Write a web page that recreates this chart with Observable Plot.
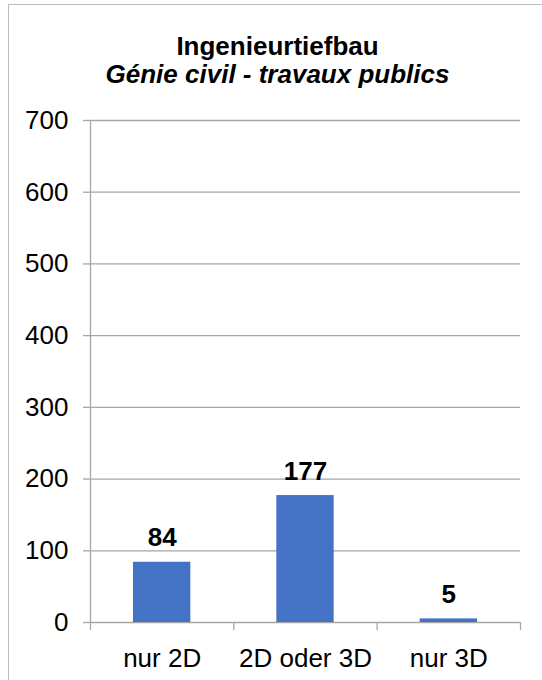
<!DOCTYPE html>
<html>
<head>
<meta charset="utf-8">
<script src="https://cdn.jsdelivr.net/npm/d3@7"></script>
<script src="https://cdn.jsdelivr.net/npm/@observablehq/plot@0.6"></script>
<style>
  html, body { margin: 0; padding: 0; background: white; width: 542px; height: 680px; overflow: hidden; }
  #wrap { position: relative; width: 542px; height: 680px; }
  #frame { position: absolute; left: 8px; top: 4px; width: 700px; height: 800px; border-left: 1px solid #bcbcbc; border-top: 1px solid #bcbcbc; pointer-events: none; }
  #title { position: absolute; left: 9px; top: 32px; width: 537px; text-align: center; font-family: "Liberation Sans", Arial, sans-serif; font-size: 26px; font-weight: bold; line-height: 28px; color: #000; }
  #title .sub { font-style: italic; }
  #chart { position: absolute; left: 0; top: 0; }
</style>
</head>
<body>
<div id="wrap">
  <div id="chart"></div>
  <div id="frame"></div>
  <div id="title"><div>Ingenieurtiefbau</div><div class="sub">Génie civil - travaux publics</div></div>
</div>
<script>
const categories = ["nur 2D", "2D oder 3D", "nur 3D"];
const values = [84, 177, 5];
const yTicks = [0, 100, 200, 300, 400, 500, 600, 700];

const data = categories.map((c, i) => ({i, category: c, value: values[i]}));
const boundaries = d3.range(categories.length + 1);
const centers = categories.map((c, i) => i + 0.5);

const gray = "#a6a6a6";

const chart = Plot.plot({
  width: 542,
  height: 680,
  marginLeft: 90,
  marginRight: 22,
  marginTop: 120,
  marginBottom: 58,
  style: {fontFamily: "'Liberation Sans', Arial, sans-serif", fontSize: "26px", color: "#000", background: "white", overflow: "visible"},
  x: {domain: [0, categories.length], axis: null, label: null},
  y: {domain: [0, 700], axis: null, label: null},
  marks: [
    Plot.gridY(yTicks, {stroke: gray, strokeOpacity: 1, strokeWidth: 1.3}),
    Plot.axisY({ticks: yTicks, label: null, tickSize: 7, tickPadding: 15, stroke: gray, strokeOpacity: 1, strokeWidth: 1.3, fill: "#000", fontSize: 26, tickFormat: d => String(d)}),
    Plot.ruleX([0], {stroke: gray, strokeWidth: 1.3}),
    Plot.axisX({ticks: boundaries, label: null, tickSize: 8, tickFormat: () => "", stroke: gray, strokeOpacity: 1, strokeWidth: 1.3}),
    Plot.axisX({ticks: centers, label: null, tickSize: 0, tickPadding: 26, fill: "#000", fontSize: 26, tickFormat: d => categories[Math.floor(d)]}),
    Plot.rectY(data, {x1: "i", x2: d => d.i + 1, y: "value", insetLeft: 43, insetRight: 43, fill: "#4472C4"}),
    Plot.text(data, {x: d => d.i + 0.5, y: "value", text: d => String(d.value), dy: -16, lineAnchor: "bottom", fontWeight: "bold", fontSize: 26, fill: "#000"})
  ]
});
document.getElementById("chart").appendChild(chart);
</script>
</body>
</html>
